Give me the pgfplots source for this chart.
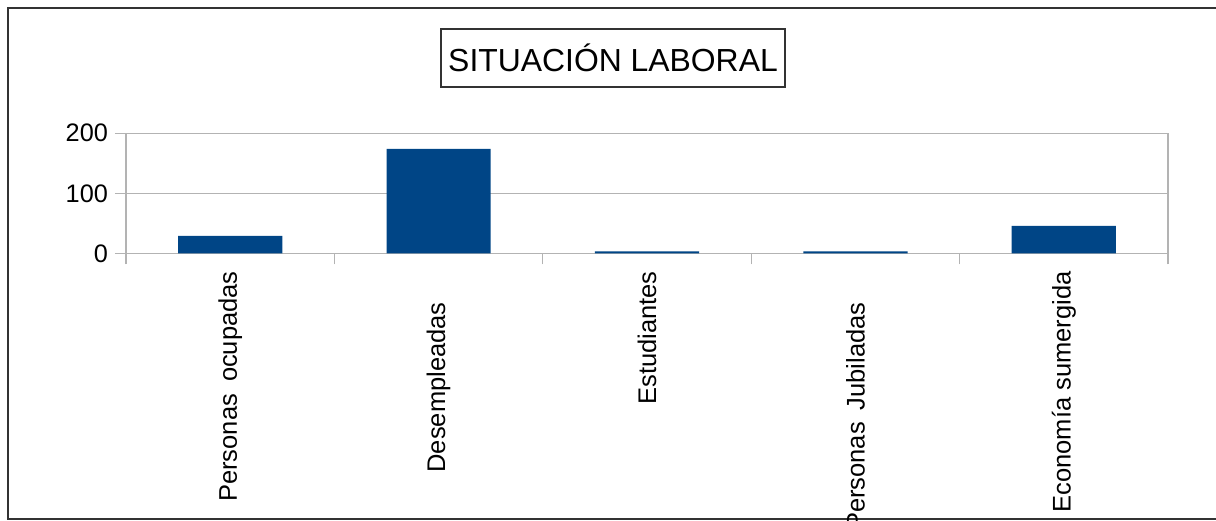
\documentclass[border=0pt]{standalone}
\usepackage{pgfplots}
\pgfplotsset{compat=1.18}
\usepackage{fontspec}
\setmainfont{Liberation Sans}
\definecolor{barblue}{HTML}{004586}
\definecolor{axgray}{HTML}{B3B3B3}
\definecolor{frame}{HTML}{333333}
\begin{document}
\begin{tikzpicture}[x=0.5bp,y=0.5bp]
\useasboundingbox (0,0) rectangle (1216,521);
\draw[color=frame, line width=1bp] (7.5,1.5) rectangle (1240,512.5);
\node[draw=frame, line width=0.6bp, font=\fontsize{16}{19}\selectfont,
      minimum width=172bp, minimum height=29bp, inner sep=0pt] at (613,463) {SITUACIÓN LABORAL};
\coordinate (O) at (126,267.7);
\begin{axis}[
  at={(O)}, anchor=south west,
  scale only axis, width=521bp, height=60bp,
  xmin=-0.5, xmax=4.5, ymin=0, ymax=200,
  ytick={0,100,200},
  xtick={0,1,2,3,4},
  xticklabels={{Personas\hspace{2.5bp} ocupadas}, {Desempleadas\hspace*{15.5bp}}, Estudiantes, {Personas\hspace{2.5bp} Jubiladas\hspace*{15.5bp}}, Economía sumergida},
  minor xtick={-0.5,0.5,1.5,2.5,3.5,4.5},
  tick align=outside,
  major tick length=5.5bp, minor tick length=5.5bp,
  ymajorgrids,
  grid style={color=axgray, line width=0.6bp},
  axis line style={color=axgray, line width=0.6bp},
  tick style={color=axgray, line width=0.6bp},
  major x tick style={draw=none},
  xtick pos=bottom, ytick pos=left,
  tick label style={font=\fontsize{12.7}{15}\selectfont},
  x tick label style={rotate=90, anchor=east, font=\fontsize{12.8}{15}\selectfont},
  /pgf/number format/assume math mode=true,
  ybar, bar width=0.5,
]
\addplot[fill=barblue, draw=none] coordinates {(0,29) (1,174) (2,3) (3,3) (4,45.5)};
\end{axis}
\end{tikzpicture}
\end{document}
